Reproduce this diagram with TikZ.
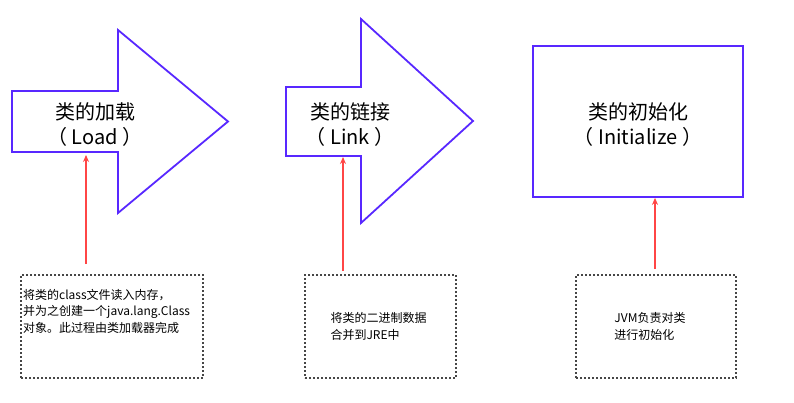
\documentclass[tikz,border=0pt]{standalone}
\usepackage{fontspec}
\setmainfont{Noto Sans CJK SC}
\usepackage{tikz}
\usetikzlibrary{positioning, arrows.meta}
\tikzset{stage-shape/.style={draw=c_stage, line width=1.8pt, line join=miter},
stage-text/.style={align=center, inner sep=0, font=\fontsize{20}{25}\selectfont},
note-box/.style={draw=c_note, line width=1.8pt, dash pattern=on 2pt off 2pt, inner sep=0},
note-text/.style={align=left, inner sep=0, font=\fontsize{12}{16.5}\selectfont},
arrow/.style={draw=c_link, line width=1.2pt, ->, >={Stealth[length=7pt, width=6pt]}}}
\definecolor{c_stage}{RGB}{88,40,255}
\definecolor{c_note}{RGB}{70,70,70}
\definecolor{c_link}{RGB}{255,70,70}

\begin{document}
\begin{tikzpicture}[x=1pt, y=-1pt]
\useasboundingbox (0,0) rectangle (794,403);
\draw [stage-shape] (12,91) -- (118,91) -- (118,30) -- (228,121.5) -- (118,213) -- (118,152) -- (12,152) -- cycle;
\coordinate (load-bottom) at (86,152);
\node (load) [stage-text] at (95,124.5) {类的加载\\（ Load ）};
\draw [stage-shape] (286,87) -- (361,87) -- (361,19) -- (473,121) -- (361,223) -- (361,156) -- (286,156) -- cycle;
\coordinate (link-bottom) at (343,156);
\node (link) [stage-text] at (350,124.5) {类的链接\\（ Link ）};
\node (init) [stage-shape, minimum width=210pt, minimum height=151pt] at (638,121.5) {};
\node (init-text) [stage-text] at (638,125) {类的初始化\\（ Initialize ）};

\node (n1) [note-box, minimum width=182pt, minimum height=103pt] at (112,326.5) {};
\node (n1-text) [note-text, anchor=north west] at (23,289) {将类的class文件读入内存，\\并为之创建一个java.lang.Class\\对象。此过程由类加载器完成};
\node (n2) [note-box, minimum width=151pt, minimum height=103pt] at (380.5,326.5) {};
\node (n2-text) [note-text] at ([xshift=-2pt]n2.center) {将类的二进制数据\\合并到JRE中};
\node (n3) [note-box, minimum width=160pt, minimum height=103pt] at (656,326.5) {};
\node (n3-text) [note-text] at ([xshift=-6pt]n3.center) {JVM负责对类\\进行初始化};

\draw [arrow, shorten <=10pt, shorten >=3pt] (n1.north -| load-bottom) -- (load-bottom);
\draw [arrow, shorten <=3pt, shorten >=1pt] (n2.north -| link-bottom) -- (link-bottom);
\draw [arrow, shorten <=5pt] ([xshift=-1pt]n3.north) -- ([xshift=-1pt]n3.north |- init.south);
\end{tikzpicture}
\end{document}
